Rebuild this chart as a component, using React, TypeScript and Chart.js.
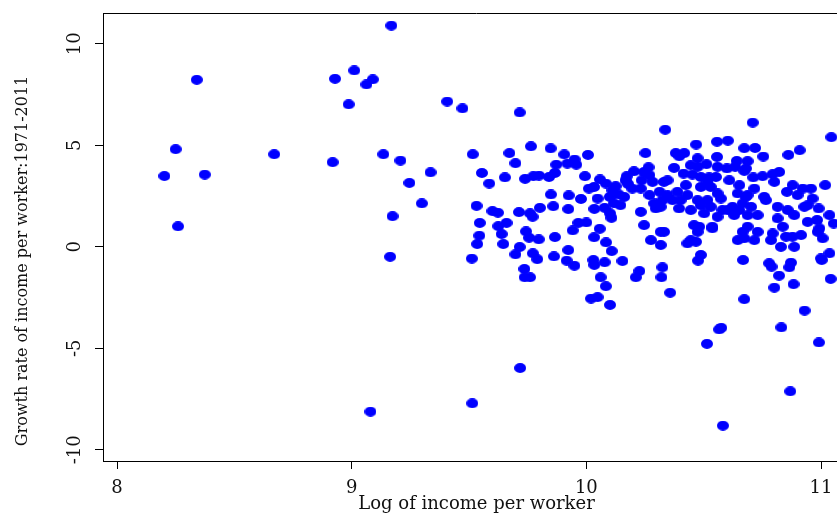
import React, { useEffect, useRef } from "react";
import { Chart, registerables } from "chart.js";
Chart.register(...registerables);

const xTitle = "Log of income per worker";
const yTitle = "Growth rate of income per worker:1971-2011";
const xTickValues = [8, 9, 10, 11];
const yTickValues = [-10, -5, 0, 5, 10];
const xRange = [7.9403, 11.1235];
const yRange = [-10.55, 11.52];

const logIncome = [
  9.169, 8.340, 8.929, 9.011, 9.090, 9.063, 8.987, 8.250, 8.202, 8.374,
  8.670, 8.919, 9.135, 9.208, 8.260, 9.174, 9.164, 9.407, 9.472, 9.716,
  9.336, 9.246, 9.299, 9.516, 9.672, 9.698, 9.764, 9.848, 9.906, 9.950,
  10.007, 9.872, 9.919, 9.957, 9.555, 9.586, 9.653, 9.739, 9.774, 9.798,
  9.841, 9.866, 9.994, 10.058, 10.083, 10.125, 10.011, 10.033, 9.532, 9.849,
  9.925, 9.977, 10.048, 10.100, 10.118, 9.546, 9.600, 9.623, 9.713, 9.760,
  9.771, 9.802, 9.859, 9.923, 10.034, 10.078, 10.101, 10.107, 9.625, 9.660,
  9.544, 9.535, 9.639, 9.646, 9.743, 9.756, 9.797, 9.866, 9.716, 9.698,
  9.772, 9.791, 9.923, 9.862, 9.916, 9.949, 9.942, 9.966, 10.000, 10.057,
  10.033, 10.084, 10.108, 10.030, 10.078, 9.512, 9.736, 9.737, 9.760, 10.061,
  10.034, 10.083, 10.020, 10.048, 10.101, 10.154, 10.226, 10.211, 10.324, 10.320,
  10.357, 10.476, 10.668, 10.673, 10.779, 10.789, 10.872, 10.865, 10.821, 10.801,
  10.883, 11.003, 11.041, 10.930, 10.575, 10.566, 10.514, 10.831, 10.991, 10.869,
  10.582, 9.718, 9.514, 9.080, 10.336, 10.709, 11.044, 10.252, 10.468, 10.557,
  10.603, 10.673, 10.719, 10.754, 10.861, 10.909, 10.381, 10.417, 10.396, 10.474,
  10.557, 10.374, 10.265, 10.203, 10.172, 10.246, 10.178, 10.236, 10.282, 10.331,
  10.346, 10.445, 10.474, 10.512, 10.414, 10.452, 10.488, 10.523, 10.552, 10.559,
  10.599, 10.634, 10.641, 10.687, 10.680, 10.673, 10.609, 10.652, 10.711, 10.751,
  10.794, 10.822, 10.801, 10.716, 10.680, 10.758, 10.765, 10.879, 10.922, 10.957,
  11.018, 10.855, 10.900, 10.964, 10.815, 10.858, 10.886, 10.929, 10.943, 10.990,
  11.036, 11.054, 10.815, 10.943, 10.983, 10.993, 10.837, 10.851, 10.879, 10.915,
  10.986, 11.007, 10.794, 10.787, 10.829, 10.886, 11.036, 11.000, 10.645, 10.673,
  10.716, 10.730, 10.687, 10.666, 10.652, 10.666, 10.702, 10.687, 10.730, 10.623,
  10.630, 10.602, 10.645, 10.687, 10.537, 10.559, 10.580, 10.516, 10.530, 10.488,
  10.502, 10.474, 10.445, 10.488, 10.530, 10.516, 10.559, 10.573, 10.424, 10.431,
  10.388, 10.402, 10.346, 10.324, 10.317, 10.367, 10.289, 10.296, 10.395, 10.459,
  10.481, 10.474, 10.537, 10.317, 10.331, 10.275, 10.317, 10.232, 10.246, 10.431,
  10.445, 10.467, 10.488, 10.145, 10.161, 10.137, 10.111, 10.269, 10.312, 10.269,
  10.196, 10.232, 10.167,
];

const growthRate = [
  10.90, 8.23, 8.28, 8.69, 8.25, 8.00, 7.02, 4.81, 3.49, 3.56,
  4.56, 4.17, 4.56, 4.25, 1.01, 1.51, -0.49, 7.16, 6.82, 6.62,
  3.67, 3.15, 2.14, 4.56, 4.62, 4.12, 4.95, 4.85, 4.55, 4.30,
  4.53, 4.05, 4.10, 4.05, 3.64, 3.12, 3.42, 3.35, 3.48, 3.51,
  3.44, 3.64, 3.48, 3.32, 3.12, 2.99, 2.87, 2.95, 2.02, 2.58,
  2.53, 2.36, 2.38, 2.46, 2.14, 1.18, 1.76, 1.68, 1.71, 1.65,
  1.48, 1.92, 2.00, 1.86, 1.87, 1.92, 1.65, 1.43, 1.02, 1.18,
  0.55, 0.14, 0.63, 0.14, 0.76, 0.45, 0.37, 0.48, -0.01, -0.37,
  -0.32, -0.61, -0.16, -0.47, -0.68, -0.93, 0.81, 1.18, 1.20, 0.89,
  0.47, 0.22, -0.21, -0.65, -0.76, -0.58, -1.09, -1.50, -1.50, -1.50,
  -0.89, -1.94, -2.55, -2.48, -2.86, -0.70, -1.19, -1.50, -1.01, -1.50,
  -2.26, -0.68, -0.65, -2.58, -0.81, -0.98, -0.78, -1.01, -1.42, -2.01,
  -1.84, -0.65, -1.58, -3.14, -3.99, -4.07, -4.78, -3.97, -4.71, -7.12,
  -8.81, -5.97, -7.71, -8.12, 5.77, 6.12, 5.40, 4.62, 5.04, 5.18,
  5.23, 4.86, 4.87, 4.45, 4.53, 4.76, 4.62, 4.62, 4.46, 4.36,
  4.43, 3.89, 3.92, 3.72, 3.48, 3.69, 3.09, 3.28, 3.20, 3.20,
  3.28, 4.02, 3.94, 4.07, 3.61, 3.56, 3.44, 3.42, 3.44, 3.94,
  3.86, 3.94, 4.23, 4.22, 3.86, 3.74, 3.28, 3.04, 3.42, 3.48,
  3.58, 3.69, 3.20, 2.87, 2.46, 2.46, 2.30, 3.04, 2.87, 2.87,
  3.04, 2.71, 2.55, 2.38, 1.97, 1.81, 1.56, 1.97, 2.05, 1.89,
  1.56, 1.15, 1.40, 1.23, 1.32, 0.91, 0.99, 0.50, 0.50, 0.58,
  0.74, 0.42, 0.66, 0.33, 0.00, 0.00, -0.32, -0.57, 0.33, 0.42,
  0.33, 0.74, 0.99, 0.74, 1.81, 2.14, 1.97, 1.56, 1.56, 1.97,
  1.56, 1.81, 2.63, 2.55, 0.99, 1.48, 1.81, 2.30, 1.97, 2.05,
  1.65, 2.30, 1.81, 2.95, 2.95, 3.20, 2.63, 2.38, 3.04, 2.55,
  2.71, 2.30, 2.55, 2.30, 1.97, 2.30, 2.14, 1.89, 1.89, 1.07,
  0.99, 0.74, 0.91, 0.74, 0.74, 0.33, 0.09, 1.72, 1.07, 0.17,
  0.33, 0.25, -0.40, 2.05, 2.46, 2.59, 2.79, 2.55, 2.71, 3.53,
  2.87, 2.87, 3.28,
];

const FONT_FAMILY = "'DejaVu Serif', serif";
const TEXT_COLOR = "#111111";
const DOT_COLOR = "#0000ff";

export default function App() {
  const canvasRef = useRef<HTMLCanvasElement | null>(null);

  useEffect(() => {
    document.body.style.margin = "0";
    document.body.style.overflow = "hidden";
    document.documentElement.style.overflow = "hidden";
    const canvas = canvasRef.current;
    if (!canvas) return;

    const dot = document.createElement("canvas");
    dot.width = 12;
    dot.height = 10;
    const dctx = dot.getContext("2d");
    if (dctx) {
      dctx.fillStyle = DOT_COLOR;
      dctx.beginPath();
      dctx.ellipse(6, 5, 6, 5, 0, 0, Math.PI * 2);
      dctx.fill();
    }

    const framePlugin = {
      id: "frame",
      afterDraw(chart: any) {
        const { ctx, chartArea } = chart;
        const ys = chart.scales.y;
        ctx.save();
        ctx.strokeStyle = "#000";
        ctx.lineWidth = 1;
        ctx.beginPath();
        ctx.moveTo(chartArea.left, Math.round(chartArea.top) + 0.5);
        ctx.lineTo(chart.width, Math.round(chartArea.top) + 0.5);
        ctx.stroke();
        ctx.fillStyle = TEXT_COLOR;
        ctx.font = `18px ${FONT_FAMILY}`;
        ctx.textAlign = "center";
        ctx.textBaseline = "alphabetic";
        yTickValues.forEach((v) => {
          const py = ys.getPixelForValue(v);
          ctx.save();
          ctx.translate(chartArea.left - 23, py);
          ctx.rotate(-Math.PI / 2);
          ctx.fillText(String(v), 0, 0);
          ctx.restore();
        });
        // y axis title
        ctx.font = `16px ${FONT_FAMILY}`;
        ctx.save();
        ctx.translate(27, (chartArea.top + chartArea.bottom) / 2 + 24);
        ctx.rotate(-Math.PI / 2);
        ctx.fillText(yTitle, 0, 0);
        ctx.restore();
        ctx.restore();
      },
    };

    const points = logIncome.map((x, i) => ({ x, y: growthRate[i] }));

    const chart = new Chart(canvas, {
      type: "scatter",
      data: {
        datasets: [
          {
            data: points,
            pointStyle: dot,
            pointRadius: 6,
            backgroundColor: DOT_COLOR,
            borderColor: DOT_COLOR,
          },
        ],
      },
      options: {
        responsive: false,
        animation: false,
        events: [],
        layout: { autoPadding: false, padding: { top: 13, left: 0, right: 0, bottom: 0 } },
        plugins: { legend: { display: false }, tooltip: { enabled: false } },
        scales: {
          x: {
            type: "linear",
            min: xRange[0],
            max: xRange[1],
            afterBuildTicks: (s: any) => {
              s.ticks = xTickValues.map((v) => ({ value: v }));
            },
            afterFit: (s: any) => {
              s.height = 52;
              s.paddingLeft = 0;
              s.paddingRight = 0;
            },
            border: { display: true, color: "#000", width: 1 },
            grid: { display: true, drawOnChartArea: false, drawTicks: true, tickLength: 8, color: "#000" },
            ticks: {
              color: TEXT_COLOR,
              font: { family: FONT_FAMILY, size: 18 },
              padding: 9,
              maxRotation: 0,
              callback: (v: any) => String(v),
            },
            title: {
              display: true,
              text: xTitle,
              color: TEXT_COLOR,
              font: { family: FONT_FAMILY, size: 18, lineHeight: 1 },
              padding: 0,
            },
          },
          y: {
            type: "linear",
            min: yRange[0],
            max: yRange[1],
            afterBuildTicks: (s: any) => {
              s.ticks = yTickValues.map((v) => ({ value: v }));
            },
            afterFit: (s: any) => {
              s.width = 103;
              s.paddingTop = 0;
              s.paddingBottom = 0;
            },
            border: { display: true, color: "#000", width: 1 },
            grid: { display: true, drawOnChartArea: false, drawTicks: true, tickLength: 8, color: "#000" },
            ticks: { display: false },
            title: { display: false },
          },
        },
      },
      plugins: [framePlugin],
    } as any);

    return () => chart.destroy();
  }, []);

  return (
    <div style={{ position: "fixed", left: 0, top: 0, width: 850, height: 513 }}>
      <canvas ref={canvasRef} width={850} height={513} style={{ display: "block" }} />
    </div>
  );
}
